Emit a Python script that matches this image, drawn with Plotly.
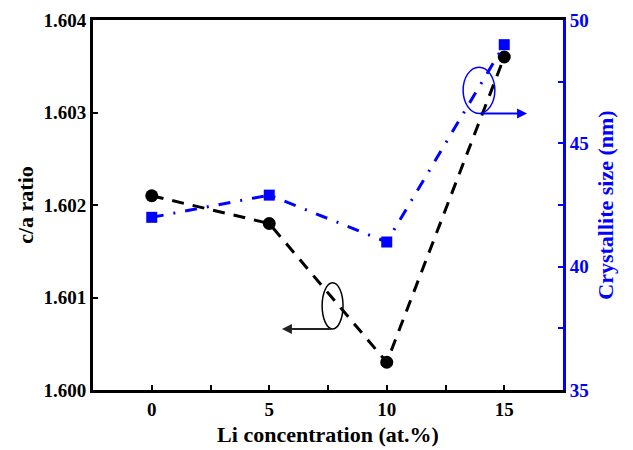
import plotly.graph_objects as go

li_conc = [0, 5, 10, 15]
ca_ratio = [1.6021, 1.6018, 1.6003, 1.6036]
cryst_size = [42.0, 42.9, 41.0, 49.0]

FONT = "Liberation Serif"
fig = go.Figure()

fig.add_trace(go.Scatter(
    x=li_conc, y=ca_ratio, mode="lines+markers",
    line=dict(color="black", width=3, dash="12px,9px"),
    marker=dict(symbol="circle", size=13, color="black"),
    yaxis="y", showlegend=False))
fig.add_trace(go.Scatter(
    x=li_conc, y=cryst_size, mode="lines+markers",
    line=dict(color="#0000ff", width=3, dash="12px,10px,2px,10px"),
    marker=dict(symbol="square", size=11, color="#0000ff"),
    yaxis="y2", showlegend=False))

# ellipse + arrow indicators
fig.add_shape(type="circle", xref="x", yref="y", x0=7.25, x1=8.14, y0=1.60066, y1=1.60116,
              line=dict(color="black", width=1.5))
fig.add_annotation(x=5.54, y=1.60066, ax=7.71, ay=1.60066, xref="x", yref="y", axref="x", ayref="y",
                   text="", showarrow=True, arrowhead=2, arrowsize=1, arrowwidth=2, arrowcolor="#222")
fig.add_shape(type="circle", xref="x", yref="y", x0=13.25, x1=14.6, y0=1.60299, y1=1.60349,
              line=dict(color="#0000ff", width=1.5))
fig.add_annotation(x=15.97, y=1.60299, ax=14.05, ay=1.60299, xref="x", yref="y", axref="x", ayref="y",
                   text="", showarrow=True, arrowhead=2, arrowsize=1, arrowwidth=2, arrowcolor="#0000ff")

fig.update_layout(
    width=625, height=442,
    margin=dict(l=85, r=70, t=12, b=60, autoexpand=False),
    paper_bgcolor="white", plot_bgcolor="white",
    font=dict(family=FONT, color="black"),
    xaxis=dict(range=[-2.5, 17.5], tickvals=[0, 5, 10, 15], showgrid=False, zeroline=False, automargin=False,
               showline=True, linecolor="black", linewidth=3, mirror=True,
               ticks="inside", ticklen=5, tickwidth=2, tickcolor="black",
               minor=dict(dtick=2.5, ticks="inside", ticklen=5, tickwidth=2, tickcolor="black"),
               tickfont=dict(family=FONT, size=19, color="black", weight="bold"),
               title=dict(text="Li concentration (at.%)", font=dict(family=FONT, size=22, color="black", weight="bold"), standoff=8)),
    yaxis=dict(range=[1.600, 1.604], tickvals=[1.600, 1.601, 1.602, 1.603, 1.604], tickformat=".3f",
               showgrid=False, zeroline=False, showline=True, linecolor="black", linewidth=3, automargin=False,
               ticks="inside", ticklen=5, tickwidth=2, tickcolor="black",
               tickfont=dict(family=FONT, size=19, color="black", weight="bold"),
               title=dict(text="c/a ratio", font=dict(family=FONT, size=22, color="black", weight="bold"), standoff=4)),
    yaxis2=dict(range=[35, 50], tickvals=[35, 40, 45, 50], overlaying="y", side="right", automargin=False,
                showgrid=False, zeroline=False, showline=True, linecolor="#0000ff", linewidth=3,
                ticks="inside", ticklen=5, tickwidth=2, tickcolor="#0000ff",
                minor=dict(dtick=2.5, ticks="inside", ticklen=5, tickwidth=2, tickcolor="#0000ff"),
                tickfont=dict(family=FONT, size=19, color="#0000ff", weight="bold"),
                title=dict(text="Crystallite size (nm)", font=dict(family=FONT, size=22, color="#0000ff", weight="bold"), standoff=10)),
)

fig.write_html("out.html")
